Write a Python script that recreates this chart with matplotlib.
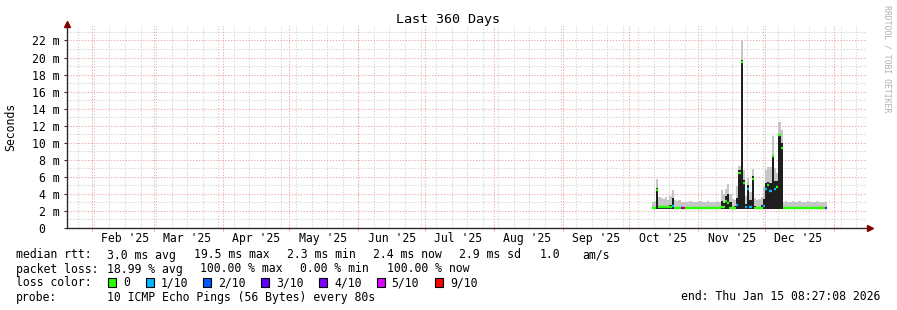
import matplotlib
matplotlib.use("Agg")
import matplotlib.pyplot as plt
import matplotlib.dates as mdates
from matplotlib.ticker import NullFormatter
from matplotlib.patches import Rectangle
import numpy as np
import pandas as pd

W, H = 897, 310
MONO = "DejaVu Sans Mono"
FS = 8.3

title = "Last 360 Days"
y_label = "Seconds"
watermark = "RRDTOOL / TOBI OETIKER"
end_text = "end: Thu Jan 15 08:27:08 2026"

# time window of the graph
x_start = "2025-01-20 21:07"
span_days = 360

# daily data (one value per day, starting at first_day)
first_day = "2025-10-11"
median_ms = [2.35, 2.35, 4.5, 2.5, 2.5, 2.45, 2.5, 2.45, 2.5, 2.6, 2.4, 2.35, 2.35, 2.3, 2.3,
             2.3, 2.3, 2.3, 2.3, 2.3, 2.3, 2.3, 2.3, 2.3, 2.3, 2.3, 2.3, 2.3, 2.3, 2.3, 2.3,
             2.5, 2.5, 3.2, 2.9, 2.4, 2.3, 2.3, 2.7, 6.4, 19.5, 5.3, 2.5, 4.6, 2.5, 5.8,
             2.35, 2.35, 2.35, 2.4, 2.6, 4.6, 5.0, 4.3, 8.4, 4.6, 4.8, 10.9, 9.4,
             2.35, 2.35, 2.35, 2.35, 2.35, 2.35, 2.35, 2.35, 2.35, 2.35,
             2.35, 2.35, 2.35, 2.35, 2.35, 2.35, 2.35, 2.35, 2.35, 2.35]
dark_top_ms = [2.4, 2.45, 4.65, 2.6, 2.6, 2.5, 2.6, 2.5, 2.7, 3.5, 2.5, 2.45, 2.45, 2.4, 2.4,
               2.4, 2.4, 2.4, 2.4, 2.4, 2.4, 2.4, 2.4, 2.4, 2.4, 2.4, 2.4, 2.4, 2.4, 2.4, 2.4,
               3.2, 2.9, 3.7, 4.0, 3.0, 2.5, 2.6, 3.5, 6.8, 19.7, 5.6, 2.8, 5.0, 3.3, 6.1,
               2.6, 2.5, 2.5, 2.7, 3.4, 5.3, 5.4, 5.3, 8.6, 5.5, 5.5, 11.0, 10.0,
               2.4, 2.4, 2.4, 2.4, 2.4, 2.4, 2.4, 2.4, 2.4, 2.4,
               2.4, 2.4, 2.4, 2.4, 2.4, 2.4, 2.4, 2.4, 2.4, 2.4]
smoke_top_ms = [3.0, 3.2, 5.7, 3.6, 3.5, 3.4, 3.6, 3.3, 3.7, 4.5, 3.3, 3.2, 3.3, 3.0, 3.0,
                3.1, 3.0, 3.2, 3.0, 3.1, 3.0, 3.2, 3.1, 3.0, 3.1, 3.2, 3.0, 3.1, 3.0, 3.2, 3.1,
                4.5, 4.0, 4.6, 5.2, 4.0, 3.4, 3.3, 4.9, 7.3, 22.1, 6.8, 3.8, 6.0, 4.2, 6.9,
                3.5, 3.3, 3.4, 3.6, 4.8, 6.8, 7.2, 7.2, 10.8, 7.0, 6.5, 12.4, 11.5,
                3.1, 3.2, 3.0, 3.1, 3.2, 3.1, 3.0, 3.2, 3.1, 3.1,
                3.0, 3.2, 3.1, 3.0, 3.1, 3.2, 3.1, 3.0, 3.1, 3.0]
smoke_low_ms = [2.2, 2.2, 2.2, 2.2, 2.2, 2.2, 2.2, 2.2, 2.2, 2.2, 2.2, 2.2, 2.2, 2.2, 2.2,
                2.2, 2.2, 2.2, 2.2, 2.2, 2.2, 2.2, 2.2, 2.2, 2.2, 2.2, 2.2, 2.2, 2.2, 2.2, 2.2,
                2.2, 2.2, 2.2, 2.2, 2.2, 2.2, 2.2, 2.2, 2.2, 2.2, 2.2, 2.2, 2.2, 2.2, 2.2,
                2.2, 2.2, 2.2, 2.2, 2.2, 2.2, 2.2, 2.2, 2.2, 2.2, 2.2, 2.2, 2.2,
                2.2, 2.2, 2.2, 2.2, 2.2, 2.2, 2.2, 2.2, 2.2, 2.2,
                2.2, 2.2, 2.2, 2.2, 2.2, 2.2, 2.2, 2.2, 2.2, 2.2]
loss_tenths = [0, 0, 0, 0, 0, 0, 0, 0, 0, 1, 0, 0, 0, 3, 9,
               0, 0, 0, 0, 0, 0, 0, 0, 0, 0, 0, 0, 0, 0, 0, 0,
               0, 0, 0, 0, 0, 0, 0, 1, 0, 0, 0, 1, 1, 1, 0,
               0, 0, 0, 0, 1, 1, 0, 1, 0, 1, 0, 0, 0,
               0, 0, 0, 0, 0, 0, 0, 0, 0, 0,
               0, 0, 0, 0, 0, 0, 0, 0, 0, 4]

loss_levels = [0, 1, 2, 3, 4, 5, 9]
loss_labels = ["0", "1/10", "2/10", "3/10", "4/10", "5/10", "9/10"]
loss_colors = ["#26ff00", "#00b8ff", "#0059ff", "#5e00ff", "#7e00ff", "#dd00ff", "#ff0000"]

y_major_ms = [0, 2, 4, 6, 8, 10, 12, 14, 16, 18, 20, 22]
y_major_labels = ["0  ", "2 m", "4 m", "6 m", "8 m", "10 m", "12 m", "14 m",
                  "16 m", "18 m", "20 m", "22 m"]
y_minor_ms = [1, 3, 5, 7, 9, 11, 13, 15, 17, 19, 21, 23]
y_max_ms = 23.7

stats_rows = [
    (254, [(16, "median rtt:"), (107, "3.0 ms avg"), (194, "19.5 ms max"), (287, "2.3 ms min"),
           (373, "2.4 ms now"), (459, "2.9 ms sd"), (540, "1.0"), (582, "am/s")]),
    (268, [(16, "packet loss:"), (107, "18.99 % avg"), (200, "100.00 % max"),
           (300, "0.00 % min"), (387, "100.00 % now")]),
    (296, [(16, "probe:"), (107, "10 ICMP Echo Pings (56 Bytes) every 80s"), (681, end_text)]),
]
legend_row_y = 282
legend_box_x = [108, 146, 203, 261, 319, 377, 435]
legend_text_x = [123, 160.5, 218, 276.5, 334, 391.5, 450]

RED_GRID = "#f2a6a6"
GRAY_GRID = "#d2d2d2"
AXIS_C = "#2a2a2a"
ARROW_C = "#7f0000"
DOTS = (0, (1.2, 1.6))

fig = plt.figure(figsize=(W / 100, H / 100), dpi=100)
fig.patch.set_facecolor("white")
ax = fig.add_axes([67 / W, (H - 228) / H, 800 / W, 202 / H])
ax.set_facecolor("white")

t0 = pd.Timestamp(x_start)
t1 = t0 + pd.Timedelta(days=span_days)
ax.set_xlim(t0, t1)
ax.set_ylim(0, y_max_ms)

# weekly gray grid (Sundays)
weeks = pd.date_range(t0.normalize(), t1, freq="W-SUN")
ax.vlines(weeks, 0, 1, transform=ax.get_xaxis_transform(), colors=GRAY_GRID,
          linewidth=0.75, linestyles=DOTS, zorder=0.5)

# y grid
ax.set_yticks(y_major_ms)
ax.set_yticklabels(y_major_labels)
ax.set_yticks(y_minor_ms, minor=True)
ax.yaxis.grid(True, which="minor", color=GRAY_GRID, linewidth=0.75, linestyle=DOTS)
ax.yaxis.grid(True, which="major", color=RED_GRID, linewidth=0.75, linestyle=DOTS)

# x grid / labels
ax.xaxis.set_major_locator(mdates.MonthLocator(bymonthday=1))
ax.xaxis.set_major_formatter(NullFormatter())
ax.xaxis.set_minor_locator(mdates.MonthLocator(bymonthday=16))
ax.xaxis.set_minor_formatter(mdates.DateFormatter("%b '%y"))
ax.xaxis.grid(True, which="major", color=RED_GRID, linewidth=0.75, linestyle=DOTS)
ax.set_axisbelow(True)

ax.tick_params(axis="x", which="major", length=2, width=0.75, color=RED_GRID, direction="out")
ax.tick_params(axis="x", which="minor", length=0, pad=3.2, labelsize=FS)
ax.tick_params(axis="y", which="major", length=2, width=0.75, color=AXIS_C, pad=3.6, labelsize=FS)
ax.tick_params(axis="y", which="minor", length=0)
for lab in ax.get_xticklabels(minor=True) + ax.get_yticklabels():
    lab.set_fontfamily(MONO)

for s in ["top", "right"]:
    ax.spines[s].set_visible(False)
for s in ["left", "bottom"]:
    ax.spines[s].set_color(AXIS_C)
    ax.spines[s].set_linewidth(1.0)

# data
days = pd.date_range(first_day, periods=len(median_ms) + 1, freq="D")
edges = mdates.date2num(days)
def ext(a):
    return np.append(np.asarray(a, float), a[-1])
ax.fill_between(edges, ext(smoke_low_ms), ext(smoke_top_ms), step="post",
                color="#c6c6c6", linewidth=0, zorder=2)
ax.fill_between(edges, ext(smoke_low_ms), ext(dark_top_ms), step="post",
                color="#1e1e1e", linewidth=0, zorder=3)
for i, (m, l) in enumerate(zip(median_ms, loss_tenths)):
    c = loss_colors[loss_levels.index(l)]
    ax.hlines(m, edges[i], edges[i + 1], colors=c, linewidth=1.7, zorder=4)

# arrows
ax.plot([0], [1 + 2.5 / 202], marker="^", markersize=4.2, color=ARROW_C,
        transform=ax.transAxes, clip_on=False, zorder=6)
ax.plot([(869.5 - 67) / 800], [0], marker=">", markersize=4.2, color=ARROW_C,
        transform=ax.transAxes, clip_on=False, zorder=6)

def fx(x):
    return x / W
def fy(y):
    return 1 - y / H

fig.text(fx(448), fy(19), title, family=MONO, size=9.6, ha="center", va="center")
fig.text(fx(11), fy(127), y_label, family=MONO, size=FS, rotation=90, ha="center", va="center")
fig.text(fx(887), fy(5), watermark, family=MONO, size=5.9, rotation=270,
         ha="center", va="top", color="#b0b0b0")

for yrow, segs in stats_rows:
    for x, t in segs:
        fig.text(fx(x), fy(yrow + 1), t, family=MONO, size=FS, ha="left", va="center")

fig.text(fx(16), fy(legend_row_y + 1), "loss color:", family=MONO, size=FS, ha="left", va="center")
for bx, tx, lab, c in zip(legend_box_x, legend_text_x, loss_labels, loss_colors):
    fig.add_artist(Rectangle((fx(bx), fy(legend_row_y + 4.5)), 8 / W, 9 / H,
                             transform=fig.transFigure, facecolor=c, edgecolor="black",
                             linewidth=0.8))
    fig.text(fx(tx), fy(legend_row_y + 1), lab, family=MONO, size=FS, ha="left", va="center")

fig.savefig("out.png", dpi=100, facecolor="white")
